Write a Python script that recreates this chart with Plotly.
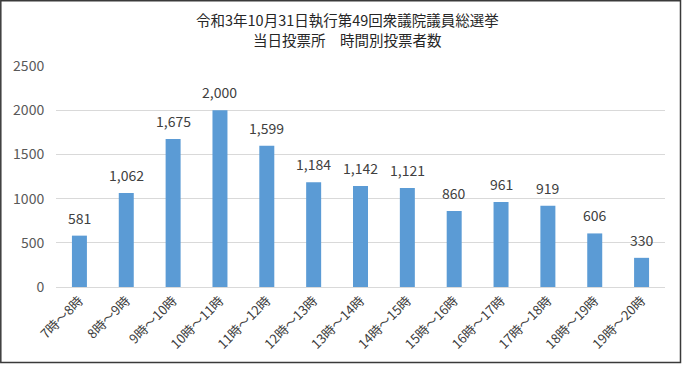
import plotly.graph_objects as go

categories = ["7時～8時", "8時～9時", "9時～10時", "10時～11時", "11時～12時", "12時～13時",
              "13時～14時", "14時～15時", "15時～16時", "16時～17時", "17時～18時", "18時～19時", "19時～20時"]
voters = [581, 1062, 1675, 2000, 1599, 1184, 1142, 1121, 860, 961, 919, 606, 330]
y_ticks = [0, 500, 1000, 1500, 2000, 2500]
title_lines = ["令和3年10月31日執行第49回衆議院議員総選挙", "当日投票所　時間別投票者数"]

FONT = "Noto Sans CJK JP"
L, T, W, H = 56, 66, 609, 221   # plot area in pixels


def px_x(px):
    return (px - L) / W


def px_y(py):
    return (T + H - py) / H


fig = go.Figure(go.Bar(
    x=categories, y=voters,
    marker=dict(color="#5B9BD5", line=dict(width=0)),
    width=0.32,
    hoverinfo="x+y",
))

for c, v in zip(categories, voters):
    fig.add_annotation(x=c, y=v, xref="x", yref="y", text=f"{v:,}",
                       showarrow=False, yanchor="bottom", yshift=6,
                       font=dict(family=FONT, size=14, color="#404040"))

for line, cy in zip(title_lines, [19, 40]):
    fig.add_annotation(x=px_x(347), y=px_y(cy), xref="paper", yref="paper",
                       text=line, showarrow=False, xanchor="center", yanchor="middle",
                       font=dict(family=FONT, size=14.5, color="#262626"))

fig.update_layout(
    width=683, height=365,
    margin=dict(l=L, r=683 - L - W, t=T, b=365 - T - H, autoexpand=False),
    paper_bgcolor="white", plot_bgcolor="white",
    showlegend=False,
    font=dict(family=FONT, color="#595959"),
    xaxis=dict(tickangle=-45, tickfont=dict(family=FONT, size=13, color="#404040"),
               showgrid=False, showline=True, linecolor="#d9d9d9", linewidth=1,
               ticks="", fixedrange=True, automargin=False),
    yaxis=dict(range=[0, 2500], tickvals=y_ticks, tickfont=dict(family=FONT, size=14, color="#595959"),
               showgrid=True, gridcolor="#d9d9d9", gridwidth=1, zeroline=False,
               showline=False, ticks="outside", ticklen=8, tickcolor="rgba(0,0,0,0)",
               automargin=False),
)

# outer border of the chart area
fig.add_shape(type="rect", xref="paper", yref="paper",
              x0=px_x(0.8), x1=px_x(680.5),
              y0=px_y(362.5), y1=px_y(0.8),
              line=dict(color="#3a3a3a", width=1.5), fillcolor="rgba(0,0,0,0)", layer="below")

fig.write_html("out.html", config={"displayModeBar": False},
               post_script="document.body.style.margin='0';document.body.style.overflow='hidden';")
